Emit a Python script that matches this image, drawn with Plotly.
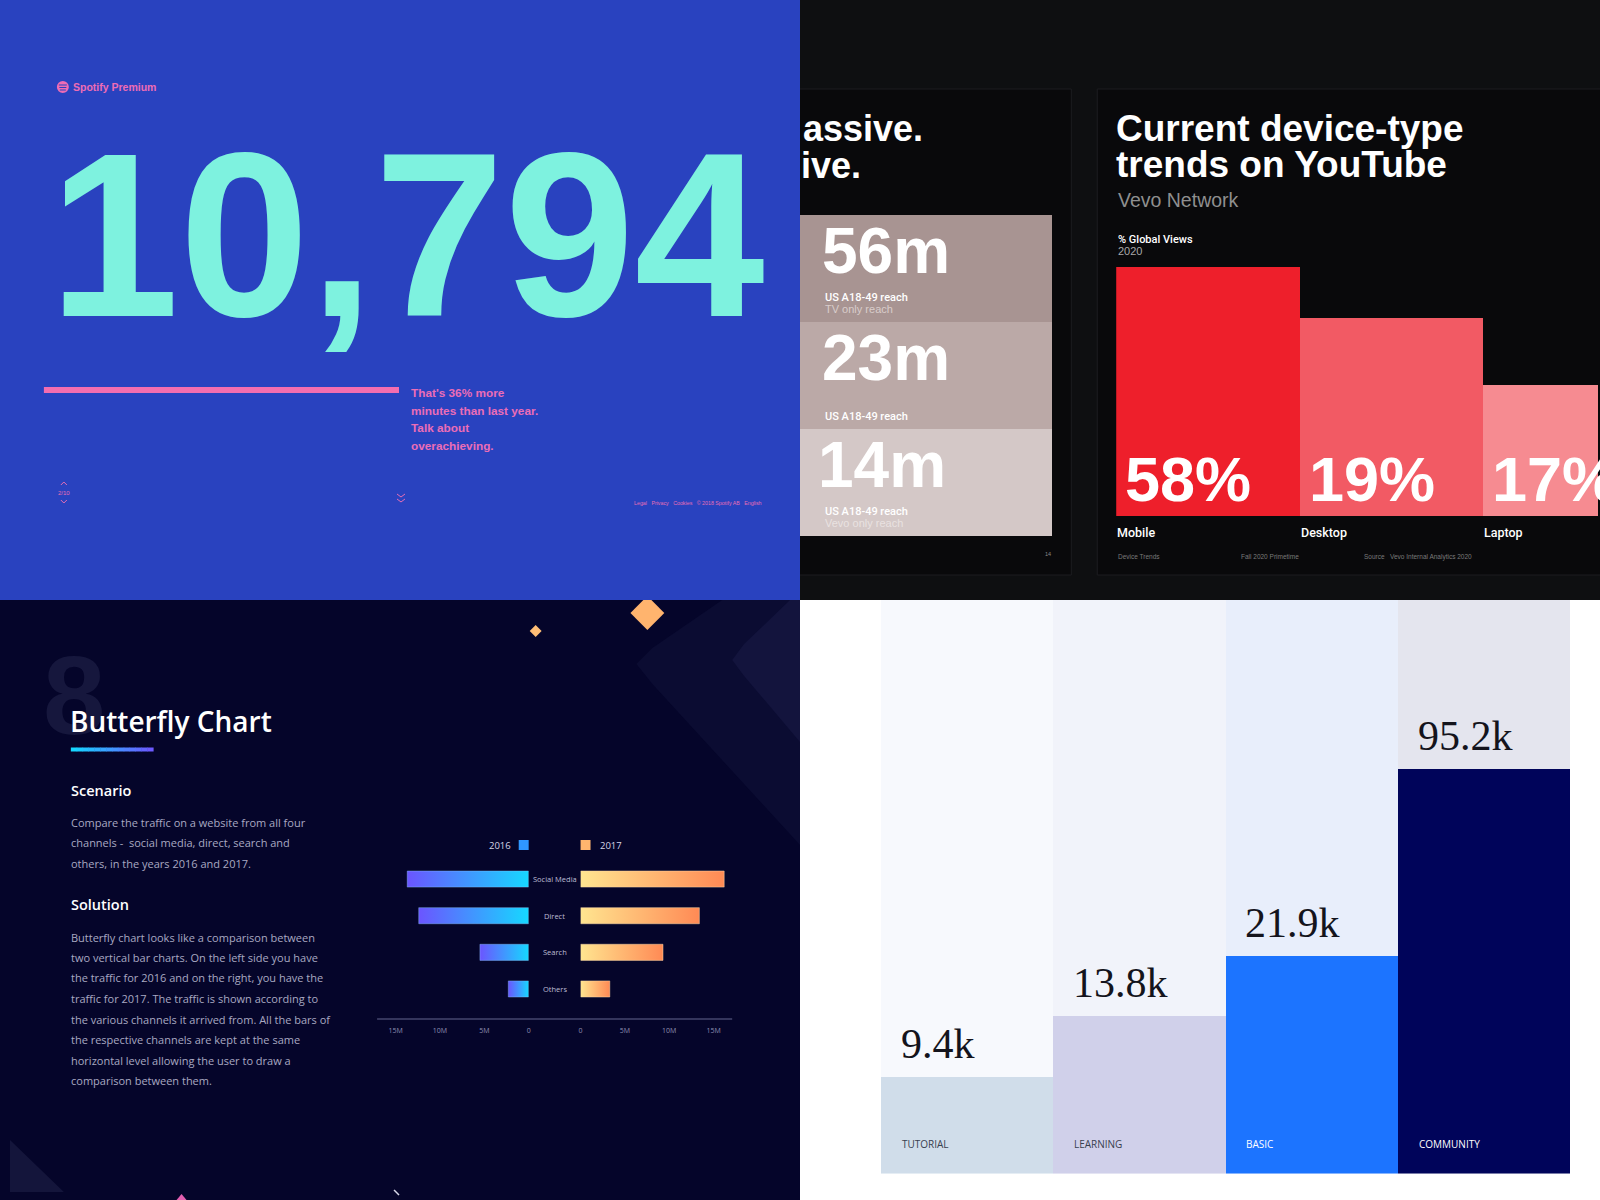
import plotly.graph_objects as go

W, H = 1600, 1200


def px(x):
    return x / W


def py(y):
    return 1 - y / H


def dom_x(a, b):
    return [a / W, b / W]


def dom_y(top, bottom):
    return [1 - bottom / H, 1 - top / H]


# ------------------------------------------------------------------ data
spotify_minutes = "10,794"
spotify_note = ["That's 36% more", "minutes than last year.", "Talk about", "overachieving."]

reach_labels = ["56m", "23m", "14m"]
reach_caption = ["US A18-49 reach", "US A18-49 reach", "US A18-49 reach"]
reach_sub = ["TV only reach", "", "Vevo only reach"]
reach_units = [1, 1, 1]

devices = ["Mobile", "Desktop", "Laptop"]
device_share_labels = ["58%", "19%", "17%"]
device_bar_heights = [58, 46.1, 30.5]

channels = ["Social Media", "Direct", "Search", "Others"]
traffic_2016 = [13.7, 12.4, 5.5, 2.3]
traffic_2017 = [16.2, 13.4, 9.3, 3.3]
traffic_ticks = [0, 5, 10, 15]
traffic_tick_text = ["0", "5M", "10M", "15M"]

plans = ["TUTORIAL", "LEARNING", "BASIC", "COMMUNITY"]
plan_value_labels = ["9.4k", "13.8k", "21.9k", "95.2k"]
plan_bar_share = [16.8, 27.4, 38.0, 70.5]
plan_column_full = [100, 100, 100, 100]

# ------------------------------------------------------------------ styles
SANS = "Liberation Sans, Arial, sans-serif"
ROBO = "Roboto, Liberation Sans, sans-serif"
OPEN = "Open Sans, sans-serif"
SERIF = "Liberation Serif, Times New Roman, serif"

shapes = []
annotations = []


def rect(x0, y0, x1, y1, fill, line=None, layer="below"):
    shapes.append(dict(type="rect", xref="paper", yref="paper",
                       x0=px(x0), x1=px(x1), y0=py(y1), y1=py(y0),
                       fillcolor=fill, line=line or dict(width=0), layer=layer))


def path(points, fill=None, line=None, close=True, layer="below"):
    s = "M " + " L ".join(f"{px(x):.5f},{py(y):.5f}" for x, y in points)
    if close:
        s += " Z"
    d = dict(type="path", xref="paper", yref="paper", path=s, layer=layer,
             line=line or dict(width=0))
    if fill:
        d["fillcolor"] = fill
    shapes.append(d)


def text(x, y, s, size, color, family=SANS, weight=None, xanchor="left", yanchor="middle",
         xref="paper", yref="paper", xshift=0, yshift=0):
    f = dict(size=size, color=color, family=family)
    if weight:
        f["weight"] = weight
    annotations.append(dict(
        x=px(x) if xref == "paper" else x,
        y=py(y) if yref == "paper" else y,
        xref=xref, yref=yref, text=s, showarrow=False, font=f,
        xanchor=xanchor, yanchor=yanchor, xshift=xshift, yshift=yshift, borderpad=0))


# ------------------------------------------------------------------ panel backgrounds
rect(800, -20, 1620, 600, "#0e0f11")
rect(790, 89, 1072, 575, "#09090b", dict(color="#1c1d20", width=1))
rect(1098, 89, 1630, 575, "#09090b", dict(color="#1c1d20", width=1))
rect(-20, -20, 800, 600, "#2942BF")
rect(-20, 600, 800, 1220, "#05052a")
rect(800, 600, 1620, 1220, "#ffffff")

# ------------------------------------------------------------------ Spotify panel
shapes.append(dict(type="circle", xref="paper", yref="paper",
                   x0=px(55), x1=px(67), y0=py(93), y1=py(81),
                   fillcolor="#EE6CB5", line=dict(width=0)))
for yy, hw in [(85, 4), (87.5, 3.5), (90, 3)]:
    path([(61 - hw, yy), (61 + hw, yy)], close=False,
         line=dict(color="#2942BF", width=1), layer="above")
text(70, 87, "Spotify Premium", 10.5, "#EE6CB5", SANS, weight=600)

text(46, 235, spotify_minutes, 234, "#7EF2DF", SANS, weight="bold")
path([(42, 390), (398, 390)], close=False, line=dict(color="#F36DB0", width=6))
for k, line in enumerate(spotify_note):
    text(409, 393 + k * 17.7, line, 11.8, "#EC6DB6", SANS, weight="bold")

# nav
path([(59, 485), (62, 482), (65, 485)], close=False, line=dict(color="#E76EB5", width=1))
text(62, 493, "2/10", 6, "#E76EB5", SANS, xanchor="center")
path([(59, 500), (62, 503), (65, 500)], close=False, line=dict(color="#E76EB5", width=1))
path([(396, 494), (400, 497), (404, 494)], close=False, line=dict(color="#E76EB5", width=1))
path([(396, 499), (400, 502), (404, 499)], close=False, line=dict(color="#E76EB5", width=1))
text(633, 503, "Legal&nbsp;&nbsp; Privacy&nbsp;&nbsp; Cookies&nbsp;&nbsp; © 2018 Spotify AB&nbsp;&nbsp; English",
     5.3, "#E76EB5", SANS)

# ------------------------------------------------------------------ Vevo panel
text(802, 128, "assive.", 36, "#ffffff", SANS, weight="bold")
text(800, 166, "ive.", 36, "#ffffff", SANS, weight="bold")
text(1049, 554, "14", 5.5, "#8a8a8a", SANS, xanchor="center")

text(1116, 128, "Current device-type", 37, "#ffffff", SANS, weight="bold")
text(1116, 164, "trends on YouTube", 37, "#ffffff", SANS, weight="bold")
text(1118, 200, "Vevo Network", 19.5, "#8f8f8f", SANS)
text(1118, 239, "% Global Views", 11, "#ffffff", ROBO, weight=500)
text(1118, 251, "2020", 11, "#a8a8a8", SANS)
text(1118, 557, "Device Trends", 6.5, "#7a7a7a", SANS)
text(1241, 557, "Fall 2020 Primetime", 6.5, "#7a7a7a", SANS)
text(1364, 557, "Source&nbsp;&nbsp; Vevo Internal Analytics 2020", 6.5, "#7a7a7a", SANS)

reach_colors = ["#A89492", "#BBA9A7", "#D4C8C7"]
reach_sub_colors = ["#D9CDCB", "#E2D9D8", "#E9E2E1"]
reach_base = [sum(reach_units[:i]) for i in range(len(reach_units))]

traces = []
traces.append(go.Bar(x=[0.5] * len(reach_units), y=reach_units, base=reach_base, width=1,
                     marker=dict(color=reach_colors, line=dict(width=0)),
                     xaxis="x", yaxis="y", hoverinfo="skip", showlegend=False))
for i, lab in enumerate(reach_labels):
    text(0, reach_base[i], lab, 64, "#ffffff", SANS, weight="bold", xref="x", yref="y",
         xshift=21 if i < 2 else 17, yshift=-36)
    if reach_sub[i]:
        text(0, reach_base[i], reach_caption[i], 11, "#ffffff", ROBO, weight=500,
             xref="x", yref="y", xshift=24, yshift=-82)
        text(0, reach_base[i], reach_sub[i], 11, reach_sub_colors[i], SANS,
             xref="x", yref="y", xshift=24, yshift=-94)
    else:
        text(0, reach_base[i], reach_caption[i], 11, "#ffffff", ROBO, weight=500,
             xref="x", yref="y", xshift=24, yshift=-94)

device_colors = ["#EE1F2B", "#F25A64", "#F68B91"]
traces.append(go.Bar(x=list(range(len(devices))), y=device_bar_heights, width=1,
                     marker=dict(color=device_colors, line=dict(width=0)),
                     xaxis="x2", yaxis="y2", hoverinfo="skip", showlegend=False))
for i, lab in enumerate(device_share_labels):
    text(i - 0.5, 0, lab, 63, "#ffffff", SANS, weight="bold", xref="x2", yref="y2",
         yanchor="bottom", xshift=8, yshift=1)
    text(i - 0.5, 0, devices[i], 12.5, "#ffffff", ROBO, weight=500, xref="x2", yref="y2",
         xshift=0, yshift=-16)

# ------------------------------------------------------------------ Butterfly panel
# decorations
path([(722, 600), (652, 648), (636, 664), (652, 684), (800, 845), (800, 600)], fill="#0b0c32")
path([(790, 600), (744, 644), (732, 660), (744, 676), (800, 742), (800, 600)], fill="#13143d")
path([(630, 613), (643, 600), (651, 600), (664, 613), (647, 630)], fill="#FFB46E")
path([(535, 625), (541, 631), (535, 637), (529, 631)], fill="#FFBE76")
path([(8, 1140), (8, 1192), (62, 1192)], fill="#14153b")
path([(175, 1200), (180, 1194), (185, 1200)], fill="#e25fb0")
path([(393, 1190), (398, 1195)], close=False, line=dict(color="#d8d8e8", width=1.5))

text(72, 695, "8", 112, "#16173d", SANS, weight="bold", xanchor="center")
text(67, 721, "Butterfly Chart", 28, "#ffffff", OPEN, weight=600)
nseg = 14
for k in range(nseg):
    t = k / (nseg - 1)
    c0 = (22, 214, 255)
    c1 = (108, 90, 255)
    col = "rgb(%d,%d,%d)" % tuple(int(a + (b - a) * t) for a, b in zip(c0, c1))
    x0 = 69 + (151.5 - 69) * k / nseg
    x1 = 69 + (151.5 - 69) * (k + 1) / nseg + 0.5
    rect(x0, 747.5, x1, 751.5, col)

text(68, 790, "Scenario", 14.5, "#ffffff", OPEN, weight=600)
scenario_lines = ["Compare the traffic on a website from all four",
                  "channels -&nbsp; social media, direct, search and",
                  "others, in the years 2016 and 2017."]
for k, s in enumerate(scenario_lines):
    text(68, 822 + k * 20.5, s, 11, "#a9a9c2", OPEN)
text(68, 904, "Solution", 14.5, "#ffffff", OPEN, weight=600)
solution_lines = ["Butterfly chart looks like a comparison between",
                  "two vertical bar charts. On the left side you have",
                  "the traffic for 2016 and on the right, you have the",
                  "traffic for 2017. The traffic is shown according to",
                  "the various channels it arrived from. All the bars of",
                  "the respective channels are kept at the same",
                  "horizontal level allowing the user to draw a",
                  "comparison between them."]
for k, s in enumerate(solution_lines):
    text(68, 937 + k * 20.5, s, 11, "#a9a9c2", OPEN)

# legend
text(511, 845, "2016", 9.5, "#d6d6e6", OPEN, xanchor="right")
rect(518, 840, 528, 850, "#2f97ff")
rect(580, 840, 590, 850, "#FFB56E")
text(598, 845, "2017", 9.5, "#d6d6e6", OPEN)

# axis line
path([(376, 1019), (732, 1019)], close=False, line=dict(color="#34355c", width=2))

half = 0.22
for i, v in enumerate(traffic_2016):
    traces.append(go.Scatter(
        x=[0, v, v, 0, 0], y=[i - half, i - half, i + half, i + half, i - half],
        mode="lines", fill="toself", line=dict(width=0.8, color="rgba(140,200,255,0.5)"),
        fillgradient=dict(type="horizontal", colorscale=[[0, "#6B55FF"], [1, "#16D8FF"]]),
        xaxis="x3", yaxis="y3", hoverinfo="skip", showlegend=False))
for i, v in enumerate(traffic_2017):
    traces.append(go.Scatter(
        x=[0, v, v, 0, 0], y=[i - half, i - half, i + half, i + half, i - half],
        mode="lines", fill="toself", line=dict(width=0.8, color="rgba(255,220,170,0.6)"),
        fillgradient=dict(type="horizontal", colorscale=[[0, "#FFE590"], [1, "#FF8A55"]]),
        xaxis="x4", yaxis="y4", hoverinfo="skip", showlegend=False))
for i, c in enumerate(channels):
    text(554, i, c, 7.5, "#bdbdd4", OPEN, xanchor="center", yref="y3")

# ------------------------------------------------------------------ Plans panel
column_bg = ["#F7F9FD", "#F1F3FA", "#E8EEFB", "#E4E5EE"]
plan_colors = ["#D0DDEA", "#D0D0EA", "#1C74FF", "#00045A"]
plan_text_colors = ["#39414f", "#39414f", "#ffffff", "#ffffff"]
traces.append(go.Bar(x=list(range(len(plans))), y=plan_column_full, width=1,
                     marker=dict(color=column_bg, line=dict(width=0)),
                     xaxis="x5", yaxis="y5", hoverinfo="skip", showlegend=False))
traces.append(go.Bar(x=list(range(len(plans))), y=plan_bar_share, width=1,
                     marker=dict(color=plan_colors, line=dict(width=0)),
                     xaxis="x5", yaxis="y5", hoverinfo="skip", showlegend=False))
for i, lab in enumerate(plan_value_labels):
    text(i - 0.5, plan_bar_share[i], lab, 42, "#14141c", SERIF, xref="x5", yref="y5",
         yanchor="bottom", xshift=19, yshift=9)
    text(i - 0.5, 0, plans[i], 10, plan_text_colors[i], OPEN, weight=500,
         xref="x5", yref="y5", xshift=20, yshift=30)

# ------------------------------------------------------------------ layout
hidden = dict(visible=False, fixedrange=True)
tick_axis = dict(tickvals=traffic_ticks, ticktext=traffic_tick_text, ticks="",
                 showgrid=False, zeroline=False, showline=False, ticklabelstandoff=6,
                 tickfont=dict(size=7, color="#8e8eb0", family=OPEN))
fig = go.Figure(data=traces)
fig.update_layout(
    width=W, height=H, margin=dict(l=0, r=0, t=0, b=0),
    paper_bgcolor="#ffffff", plot_bgcolor="rgba(0,0,0,0)",
    showlegend=False, barmode="overlay", bargap=0,
    xaxis=dict(domain=dom_x(800, 1053), range=[0, 1], anchor="y", **hidden),
    yaxis=dict(domain=dom_y(215, 536), range=[3, 0], anchor="x", **hidden),
    xaxis2=dict(domain=dom_x(1117, 1600), range=[-0.5, 2.125], anchor="y2", **hidden),
    yaxis2=dict(domain=dom_y(267, 516), range=[0, 58], anchor="x2", **hidden),
    xaxis3=dict(domain=dom_x(376, 528), range=[17.1, 0], anchor="y3", **tick_axis),
    yaxis3=dict(domain=dom_y(860, 1019), range=[3.82, -0.52], anchor="x3", **hidden),
    xaxis4=dict(domain=dom_x(580, 732), range=[0, 17.1], anchor="y4", **tick_axis),
    yaxis4=dict(domain=dom_y(860, 1019), range=[3.82, -0.52], anchor="x4", **hidden),
    xaxis5=dict(domain=dom_x(881, 1572), range=[-0.5, 3.5], anchor="y5", **hidden),
    yaxis5=dict(domain=dom_y(600, 1173.5), range=[0, 100], anchor="x5", **hidden),
    shapes=shapes, annotations=annotations,
)
fig.write_html("out.html")
